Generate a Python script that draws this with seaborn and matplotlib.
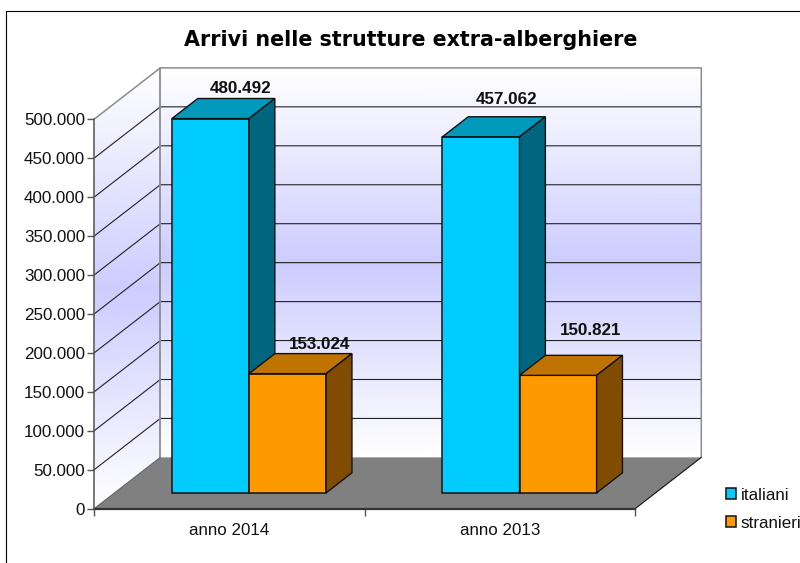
import numpy as np
import pandas as pd
import matplotlib
matplotlib.use("Agg")
import matplotlib.pyplot as plt
from matplotlib.colors import LinearSegmentedColormap
from matplotlib.lines import Line2D
from matplotlib.ticker import FuncFormatter
import seaborn as sns

# ---- data ----
periods = ["anno 2014", "anno 2013"]
series_names = ["italiani", "stranieri"]
italiani = [480492, 457062]
stranieri = [153024, 150821]
y_ticks = [0, 50000, 100000, 150000, 200000, 250000, 300000, 350000, 400000, 450000, 500000]
title_text = "Arrivi nelle strutture extra-alberghiere"

# ---- style ----
front_colors = ["#00CCFF", "#FF9900"]
top_colors = ["#0099BB", "#BF7300"]
side_colors = ["#006680", "#804D00"]
# label offsets from the top centre of each bar's front face, in pixels
label_offsets = [[(30.5, 30), (25.5, 37)], [(31.7, 29), (33, 44.5)]]

sns.set_theme(style="white")
plt.rcParams["font.family"] = ["Liberation Sans", "DejaVu Sans"]
W, H = 800, 563
PT = 72 / 100
FS = 17 * PT

fig = plt.figure(figsize=(W / 100, H / 100), dpi=100, facecolor="white")
L, R, B, T = 94, 635, 508.8, 119.3
ax = fig.add_axes([L / W, 1 - B / H, (R - L) / W, (B - T) / H])

positions = list(range(len(periods)))
df = pd.DataFrame({
    "periodo": positions * 2,
    "arrivi": italiani + stranieri,
    "provenienza": [series_names[0]] * 2 + [series_names[1]] * 2,
})
sns.barplot(data=df, x="periodo", y="arrivi", hue="provenienza", hue_order=series_names,
            palette=front_colors, width=0.57, gap=0, saturation=1, dodge=True, native_scale=True,
            edgecolor="#111111", linewidth=1.1, ax=ax, legend=True, errorbar=None)

XMIN, XMAX, YMAX = -0.5, 1.5, 500000
ax.set_xlim(XMIN, XMAX)
ax.set_ylim(0, YMAX)
ax.autoscale(False)

# oblique projection: depth z in 0..1 maps to a shift in data units
PX_X = (R - L) / 2          # pixels per category
DX = 66.3 / PX_X
DY = 51.4 / ((B - T) / YMAX)
def proj(x, y, z):
    return x + z * DX, y + z * DY

# walls: the gradient of each wall runs over its own vertical extent on screen
cmap = LinearSegmentedColormap.from_list("wall", ["#FFFFFF", "#CCCCFF", "#FFFFFF"])
ys = np.linspace(0, YMAX, 201)
zs = np.linspace(0, 1, 41)
Zg, Yg = np.meshgrid(zs, ys)
Xs, Ys = proj(XMIN, Yg, Zg)
ax.pcolormesh(Xs, Ys, Ys, cmap=cmap, vmin=0, vmax=YMAX + DY, shading="gouraud", zorder=0, clip_on=False)
xs = np.array([XMIN, XMAX])
Xg, Yg2 = np.meshgrid(xs, ys)
Xb, Yb = proj(Xg, Yg2, 1.0)
ax.pcolormesh(Xb, Yb, Yg2, cmap=cmap, vmin=0, vmax=YMAX, shading="gouraud", zorder=0, clip_on=False)

# floor
fl = [proj(XMIN, 0, 0), proj(XMAX, 0, 0), proj(XMAX, 0, 1), proj(XMIN, 0, 1)]
ax.fill(*zip(*fl), facecolor="#808080", edgecolor="none", zorder=1, clip_on=False)

# gridlines
for v in y_ticks[1:-1]:
    p = [proj(XMIN, v, 0), proj(XMIN, v, 1), proj(XMAX, v, 1)]
    ax.plot(*zip(*p), color="#222222", lw=0.8, zorder=1.5, clip_on=False)

# wall outlines
GR = "#8C8C8C"
outline = [proj(XMIN, YMAX, 0), proj(XMIN, YMAX, 1), proj(XMAX, YMAX, 1), proj(XMAX, 0, 1)]
ax.plot(*zip(*outline), color=GR, lw=1.1, zorder=1.6, clip_on=False)
p = [proj(XMIN, YMAX, 1), proj(XMIN, 0, 1)]
ax.plot(*zip(*p), color=GR, lw=1.3, zorder=1.6, clip_on=False)
p = [proj(XMIN, 0, 0), proj(XMIN, 0, 1)]
ax.plot(*zip(*p), color="#666666", lw=0.8, zorder=1.6, clip_on=False)
p = [proj(XMAX, 0, 0), proj(XMAX, 0, 1)]
ax.plot(*zip(*p), color="#111111", lw=0.8, zorder=1.6, clip_on=False)

# bars: front faces come from seaborn, then side and top faces follow from their geometry
Z0, Z1 = 0.31, 0.70
BAR_NUDGE = -0.8 / PX_X
for s, cont in enumerate(ax.containers):
    zo = 3 + s
    for c, bar in enumerate(cont):
        x0, w, h = bar.get_x() + BAR_NUDGE, bar.get_width(), bar.get_height()
        x1 = x0 + w
        fx, fy = proj(x0, 0, Z0)
        bar.set_x(fx)
        bar.set_y(fy)
        bar.set_zorder(zo)
        bar.set_clip_on(False)
        top = [proj(x0, h, Z0), proj(x1, h, Z0), proj(x1, h, Z1), proj(x0, h, Z1)]
        side = [proj(x1, 0, Z0), proj(x1, 0, Z1), proj(x1, h, Z1), proj(x1, h, Z0)]
        ax.fill(*zip(*top), facecolor=top_colors[s], edgecolor="#111111", lw=1.0, zorder=zo, clip_on=False)
        ax.fill(*zip(*side), facecolor=side_colors[s], edgecolor="#111111", lw=1.0, zorder=zo, clip_on=False)
        ox, oy = label_offsets[s][c]
        lab = f"{int(h):,}".replace(",", ".")
        ax.annotate(lab, xy=proj(x0 + w / 2, h, Z0), xytext=(ox * PT, oy * PT),
                    textcoords="offset points", ha="center", va="center",
                    fontsize=FS, fontweight="bold", color="#111111", zorder=10,
                    annotation_clip=False)

# axes
for k in ["top", "right"]:
    ax.spines[k].set_visible(False)
ax.spines["left"].set_color("#555555")
ax.spines["left"].set_linewidth(1.1)
ax.spines["bottom"].set_color("#333333")
ax.spines["bottom"].set_linewidth(1.6)
ax.spines["bottom"].set_zorder(2)
ax.set_xlabel("")
ax.set_ylabel("")
ax.set_yticks(y_ticks)
ax.yaxis.set_major_formatter(FuncFormatter(lambda v, _: f"{int(v):,}".replace(",", ".")))
ax.tick_params(axis="y", which="major", left=True, length=7 * PT, width=1.0, color="#555555",
               pad=2 * PT, labelsize=FS, labelcolor="#111111")
ax.set_xticks(positions, periods)
ax.tick_params(axis="x", which="major", bottom=False, length=0, pad=14.5 * PT, labelsize=FS, labelcolor="#111111")
ax.set_xticks([XMIN, 0.5, XMAX], minor=True)
ax.tick_params(axis="x", which="minor", bottom=True, length=7 * PT, width=1.0, color="#555555")

# legend
handles, labels = ax.get_legend_handles_labels()
ax.legend(handles, labels, loc="upper left", bbox_to_anchor=(725.5 / W, 1 - 487.5 / H),
          bbox_transform=fig.transFigure, frameon=False, fontsize=FS, handlelength=0.6,
          handleheight=0.6, handletextpad=0.3, labelspacing=0.77, borderpad=0, borderaxespad=0,
          labelcolor="#111111")

# title and outer frame
fig.text(410.5 / W, 1 - 40.5 / H, title_text, ha="center", va="center",
         family="DejaVu Sans", fontweight="bold", fontsize=14.85, color="black")
fig.add_artist(Line2D([5.5 / W, 5.5 / W, 1], [0, 1 - 10.5 / H, 1 - 10.5 / H], color="black", lw=0.8))

fig.savefig("out.png", dpi=100)
